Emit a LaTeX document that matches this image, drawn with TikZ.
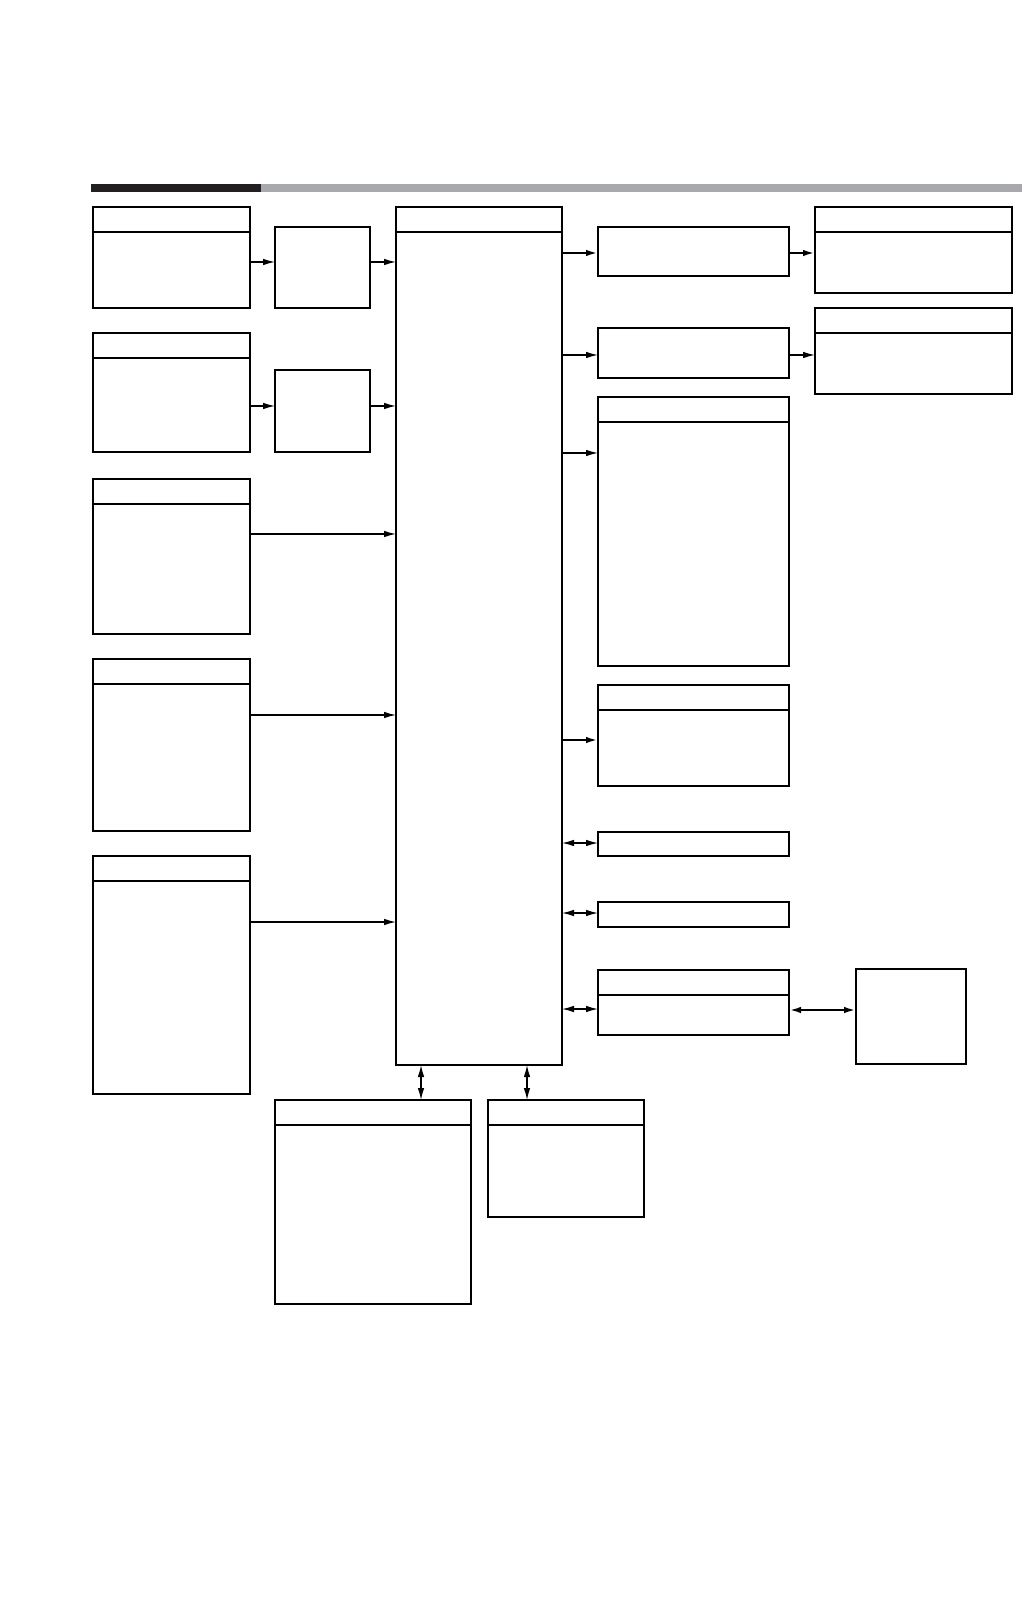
\documentclass[tikz,border=0pt]{standalone}
\usepackage{tikz}
\usetikzlibrary{arrows.meta}

\begin{document}
\begin{tikzpicture}[x=0.1mm,y=-0.1mm,
  blk/.style={draw,line width=0.65pt,inner sep=0pt,outer sep=0pt},
  hdr/.style={blk,path picture={\draw[line width=0.65pt]
    ([yshift=-2.5mm]path picture bounding box.north west) --
    ([yshift=-2.5mm]path picture bounding box.north east);}},
  arr/.style={-{Latex[length=1.2mm,width=0.65mm]},line width=0.35pt},
  darr/.style={{Latex[length=1.2mm,width=0.65mm]}-{Latex[length=1.2mm,width=0.65mm]},line width=0.35pt}]
\definecolor{barDark}{HTML}{231F20}
\definecolor{barGray}{HTML}{A7A9AC}
\useasboundingbox (0,0) rectangle (1022,1616);
\fill[barDark] (91,184) rectangle (261,192);
\fill[barGray] (261,184) rectangle (1022,192);
% left column
\node[hdr,minimum width=15.7mm,minimum height=10.1mm] (in1) at (171.5,257.5) {};
\node[hdr,minimum width=15.7mm,minimum height=11.9mm] (in2) at (171.5,392.5) {};
\node[hdr,minimum width=15.7mm,minimum height=15.5mm] (in3) at (171.5,556.5) {};
\node[hdr,minimum width=15.7mm,minimum height=17.2mm] (in4) at (171.5,745) {};
\node[hdr,minimum width=15.7mm,minimum height=23.8mm] (in5) at (171.5,975) {};
\node[blk,minimum width=9.5mm,minimum height=8.1mm] (pre1) at (322.5,267.5) {};
\node[blk,minimum width=9.5mm,minimum height=8.2mm] (pre2) at (322.5,411) {};
% core
\node[hdr,minimum width=16.6mm,minimum height=85.8mm] (core) at (479,636) {};
% right column
\node[blk,minimum width=19.1mm,minimum height=4.9mm] (outA) at (693.5,251.5) {};
\node[blk,minimum width=19.1mm,minimum height=5mm] (outB) at (693.5,353) {};
\node[hdr,minimum width=19.1mm,minimum height=26.9mm] (outC) at (693.5,531.5) {};
\node[hdr,minimum width=19.1mm,minimum height=10.1mm] (outD) at (693.5,735.5) {};
\node[blk,minimum width=19.1mm,minimum height=2.4mm] (ioE) at (693.5,844) {};
\node[blk,minimum width=19.1mm,minimum height=2.5mm] (ioF) at (693.5,914.5) {};
\node[hdr,minimum width=19.1mm,minimum height=6.5mm] (ioG) at (693.5,1002.5) {};
\node[blk,minimum width=11mm,minimum height=9.5mm] (ext) at (911,1016.5) {};
\node[hdr,minimum width=19.7mm,minimum height=8.6mm] (endA) at (913.5,250) {};
\node[hdr,minimum width=19.7mm,minimum height=8.6mm] (endB) at (913.5,351) {};
% bottom
\node[hdr,minimum width=19.6mm,minimum height=20.4mm] (memA) at (373,1202) {};
\node[hdr,minimum width=15.6mm,minimum height=11.7mm] (memB) at (566,1158.5) {};
% connectors
\foreach \a/\b/\y in {in1/pre1/262,pre1/core/262,in2/pre2/406,pre2/core/406,
  in3/core/534,in4/core/715,in5/core/922,core/outB/355,outB/endB/355,core/outC/453}
  \draw[arr] (\a.east |- 0,\y) -- (\b.west |- 0,\y);
\foreach \a/\b/\y in {core/outA/253,outA/endA/253,core/outD/740}
  \draw[arr,line width=0.65pt] (\a.east |- 0,\y) -- (\b.west |- 0,\y);
\foreach \b/\y in {ioE/843,ioF/913,ioG/1009}
  \draw[darr] (core.east |- 0,\y) -- (\b.west |- 0,\y);
\draw[darr,line width=0.65pt] (ioG.east |- 0,1010) -- (ext.west |- 0,1010);
\draw[darr] (core.south -| 421,0) -- (memA.north -| 421,0);
\draw[darr] (core.south -| 527,0) -- (memB.north -| 527,0);
\end{tikzpicture}
\end{document}
